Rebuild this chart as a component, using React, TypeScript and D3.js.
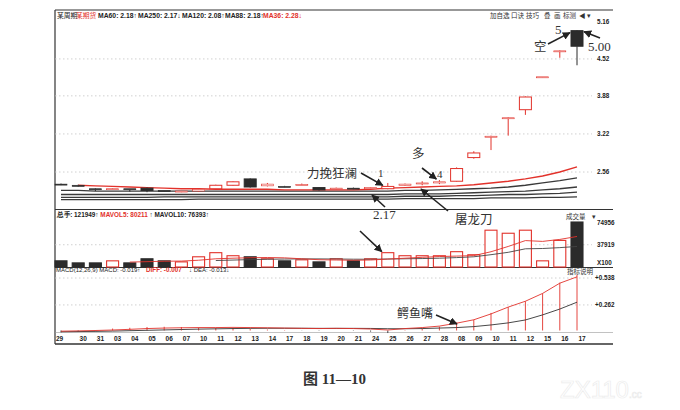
import React from 'react';
import * as d3 from 'd3';

// trading days shown under the chart
const dates = ['29', '30', '31', '03', '04', '05', '06', '07', '10', '11', '12', '13', '14', '17', '18', '19',
  '20', '21', '24', '25', '26', '27', '28', '08', '09', '10', '11', '12', '15', '16', '17'];

const opens = [2.35, 2.33, 2.27, 2.26, 2.27, 2.28, 2.24, 2.22, 2.23, 2.27, 2.33, 2.44, 2.32, 2.31, 2.33, 2.29,
  2.27, 2.28, 2.27, 2.27, 2.33, 2.36, 2.37, 2.40, 2.81, 3.17, 3.49, 3.64, 4.20, 4.65, 5.01];
const highs = [2.36, 2.34, 2.28, 2.28, 2.27, 2.29, 2.24, 2.23, 2.27, 2.34, 2.40, 2.45, 2.37, 2.32, 2.36, 2.30,
  2.29, 2.29, 2.30, 2.37, 2.36, 2.40, 2.42, 2.64, 2.92, 3.19, 3.51, 3.87, 4.21, 4.67, 5.02];
const lows = [2.34, 2.30, 2.23, 2.25, 2.22, 2.21, 2.22, 2.21, 2.22, 2.26, 2.32, 2.29, 2.31, 2.29, 2.32, 2.24,
  2.26, 2.26, 2.26, 2.26, 2.32, 2.33, 2.35, 2.39, 2.79, 2.94, 3.19, 3.55, 4.20, 4.54, 4.41];
const closes = [2.35, 2.31, 2.27, 2.27, 2.26, 2.24, 2.23, 2.23, 2.26, 2.33, 2.39, 2.30, 2.35, 2.30, 2.34, 2.25,
  2.28, 2.27, 2.29, 2.31, 2.35, 2.37, 2.39, 2.62, 2.89, 3.18, 3.50, 3.86, 4.21, 4.66, 4.74];

// price moving averages (red = MA36, the dark ones below)
const maRed = [null, 2.33, 2.32, 2.31, 2.30, 2.29, 2.28, 2.27, 2.27, 2.26, 2.26, 2.26, 2.26, 2.25, 2.25, 2.25,
  2.25, 2.25, 2.26, 2.28, 2.29, 2.30, 2.31, 2.32, 2.34, 2.37, 2.40, 2.44, 2.49, 2.56, 2.65];
const maA = [2.24, 2.24, 2.23, 2.23, 2.23, 2.23, 2.23, 2.23, 2.23, 2.23, 2.23, 2.23, 2.23, 2.23, 2.23, 2.23,
  2.23, 2.23, 2.23, 2.23, 2.24, 2.24, 2.25, 2.26, 2.27, 2.28, 2.30, 2.33, 2.37, 2.41, 2.46];
const maB = [2.17, 2.17, 2.17, 2.17, 2.17, 2.17, 2.17, 2.17, 2.17, 2.17, 2.17, 2.17, 2.17, 2.17, 2.17, 2.17,
  2.17, 2.17, 2.17, 2.17, 2.18, 2.18, 2.18, 2.19, 2.20, 2.21, 2.22, 2.23, 2.25, 2.27, 2.30];
const maC = [2.12, 2.12, 2.12, 2.12, 2.12, 2.12, 2.13, 2.13, 2.13, 2.13, 2.13, 2.13, 2.13, 2.13, 2.13, 2.13,
  2.13, 2.13, 2.13, 2.13, 2.14, 2.14, 2.14, 2.15, 2.15, 2.16, 2.17, 2.17, 2.18, 2.19, 2.21];
const maD = [2.08, 2.08, 2.08, 2.08, 2.08, 2.08, 2.08, 2.08, 2.09, 2.09, 2.09, 2.09, 2.09, 2.09, 2.09, 2.09,
  2.09, 2.09, 2.09, 2.09, 2.10, 2.10, 2.10, 2.10, 2.10, 2.11, 2.11, 2.11, 2.12, 2.12, 2.13];

const volumes = [10500, 7000, 7000, 10500, 7000, 14000, 10500, 8700, 17400, 24400, 19200, 17400, 14000, 10500,
  12200, 8700, 14000, 10500, 14000, 24400, 19200, 19200, 19200, 26100, 20900, 62700, 57500, 62700, 10500,
  45300, 121949];
const mavol5 = [null, null, null, null, 8400, 9100, 9800, 10100, 11500, 14000, 15000, 15800, 16200, 15600,
  14000, 12400, 11900, 11500, 11900, 13500, 15000, 16500, 17800, 18600, 19400, 26000, 35000, 45000, 43600,
  47000, 52000];
const mavol10 = [null, null, null, null, null, null, null, null, null, 11000, 11800, 12600, 13200, 13600, 13800,
  13800, 13600, 13300, 13200, 13600, 14000, 14400, 15000, 16000, 17400, 21000, 25000, 31000, 31500, 33000,
  35000];

const diff = [-0.007, -0.004, 0.0, 0.005, 0.012, 0.02, 0.025, 0.028, 0.03, 0.03, 0.032, 0.03, 0.028, 0.025,
  0.022, 0.02, 0.022, 0.02, 0.015, 0.005, 0.02, 0.03, 0.045, 0.075, 0.11, 0.17, 0.24, 0.30, 0.38, 0.485, 0.55];
const dea = [-0.013, -0.011, -0.009, -0.006, -0.002, 0.002, 0.006, 0.01, 0.014, 0.017, 0.02, 0.022, 0.023,
  0.023, 0.023, 0.022, 0.022, 0.022, 0.021, 0.018, 0.018, 0.02, 0.025, 0.03, 0.04, 0.057, 0.078, 0.108, 0.16,
  0.22, 0.29];
const macd = [-0.019, -0.014, -0.009, 0.02, 0.028, 0.036, 0.038, 0.036, 0.032, 0.026, 0.024, 0.016, 0.01,
  0.004, -0.002, -0.004, 0.0, -0.004, -0.012, -0.026, 0.004, 0.02, 0.04, 0.08, 0.11, 0.18, 0.24, 0.30, 0.38,
  0.49, 0.57];

const priceTicks = [5.16, 4.52, 3.88, 3.22, 2.56];
const volTicks = [{ v: 74956, label: '74956' }, { v: 37919, label: '37919' }];
const macdTicks = [{ v: 0.538, label: '+0.538' }, { v: 0.262, label: '+0.262' }];

const RED = '#e2322b';
const BLK = '#2b2b2b';
const SANS = 'Liberation Sans, Arial, sans-serif';
const CJK = 'Noto Sans CJK SC, sans-serif';
const SERIF = 'Liberation Serif, DejaVu Serif, serif';

export default function App() {
  const L = 55;
  const R = 613;
  const x = d3.scaleLinear().domain([0, dates.length - 1]).range([61, 577]);
  const yP = d3.scaleLinear().domain([2.56, 5.16]).range([172, 22]);
  const yV = d3.scaleLinear().domain([0, 74956]).range([267, 223]);
  const yM = d3.scaleLinear().domain([0, 0.538]).range([330.5, 278]);
  const bw = 12;

  const line = (ys: (v: number) => number) =>
    d3.line<number | null>()
      .defined((d) => d != null)
      .x((_, i) => x(i))
      .y((d) => ys(d as number));

  const arrow = (x1: number, y1: number, x2: number, y2: number, k: string) => (
    <line key={k} x1={x1} y1={y1} x2={x2} y2={y2} stroke="#222" strokeWidth={1.6} markerEnd="url(#ah)" />
  );

  return (
    <svg width={680} height={410} style={{ position: 'absolute', left: 0, top: 0, background: '#fff' }}>
      <defs>
        <marker id="ah" viewBox="0 0 10 10" refX="9" refY="5" markerWidth="5" markerHeight="5" orient="auto">
          <path d="M0,0 L10,5 L0,10 Z" fill="#222" />
        </marker>
      </defs>
      <rect width={680} height={410} fill="#fff" />

      {/* frame */}
      <g stroke="#333" fill="none">
        <line x1={L} y1={10} x2={R} y2={10} strokeWidth={1.2} />
        <line x1={L} y1={10} x2={L} y2={344} strokeWidth={1.2} />
        <line x1={L} y1={209.5} x2={R} y2={209.5} strokeWidth={1} />
        <line x1={L} y1={267.5} x2={R} y2={267.5} strokeWidth={1} />
        <line x1={L} y1={332.5} x2={R} y2={332.5} strokeWidth={0.6} stroke="#999" />
        <line x1={L} y1={344} x2={R} y2={344} strokeWidth={1.6} />
      </g>

      {/* grid */}
      <g stroke="#c4c4c4" strokeDasharray="1.5,2.5" strokeWidth={0.8}>
        {priceTicks.slice(1).map((p) => (
          <line key={p} x1={L} x2={592} y1={yP(p)} y2={yP(p)} />
        ))}
        <line x1={L} x2={592} y1={yV(37919)} y2={yV(37919)} />
        {macdTicks.map((t) => (
          <line key={t.label} x1={L} x2={592} y1={yM(t.v)} y2={yM(t.v)} />
        ))}
      </g>

      {/* headers */}
      <g fontFamily={SANS} fontSize={6.8} fill="#222" fontWeight={700}>
        <text x={57} y={18} fontFamily={CJK} fontWeight={400}>某周期</text>
        <text x={76} y={18} fontFamily={CJK} fontWeight={400} fill={RED}>某期货</text>
        <text x={98} y={18}>MA60: 2.18↑</text>
        <text x={138} y={18}>MA250: 2.17↓</text>
        <text x={182} y={18}>MA120: 2.08↑</text>
        <text x={225} y={18}>MA88: 2.18↑</text>
        <text x={263} y={18} fill={RED}>MA36: 2.28↓</text>

        <text x={57} y={217} textLength={152} lengthAdjust="spacingAndGlyphs">
          总手: 121949↑ <tspan fill={RED}>MAVOL5: 80211</tspan> ↑ MAVOL10: 76393↑
        </text>
      </g>
      <g fontFamily={SANS} fontSize={6} fill="#222">
        <text x={56} y={272}>MACD(12,26,9) MACD: -0.019↑</text>
        <text x={146} y={272} fill={RED} fontSize={6.3} fontWeight={700}>DIFF: -0.007</text>
        <text x={189} y={272}>↓ DEA: -0.013↓</text>
      </g>
      <g fontFamily={CJK} fontSize={6.5} fill="#333">
        <text x={490} y={18}>加自选</text>
        <text x={511} y={18}>口诀</text>
        <text x={526} y={18}>技巧</text>
        <text x={544} y={18}>叠</text>
        <text x={554} y={18}>画</text>
        <text x={563} y={18}>标测</text>
        <text x={579} y={18}>◀ ▾</text>
        <text x={566} y={219}>成交量</text>
        <text x={592} y={219}>▾</text>
        <text x={567} y={274}>指标说明</text>
      </g>

      {/* right axis labels */}
      <g fontFamily={SANS} fontSize={6.3} fill="#222" fontWeight={700}>
        {priceTicks.map((p) => (
          <text key={p} x={597} y={yP(p) + 2}>{p.toFixed(2)}</text>
        ))}
        {volTicks.map((t) => (
          <text key={t.label} x={597} y={yV(t.v) + 2}>{t.label}</text>
        ))}
        <text x={597} y={265}>X100</text>
        {macdTicks.map((t) => (
          <text key={t.label} x={595} y={yM(t.v) + 2}>{t.label}</text>
        ))}
      </g>

      {/* moving averages under candles */}
      <g fill="none">
        {[maD, maC, maB, maA].map((m, i) => (
          <path key={i} d={line(yP)(m) || ''} stroke="#3a3a3a" strokeWidth={1.3} />
        ))}
        <path d={line(yP)(maRed) || ''} stroke={RED} strokeWidth={1.4} />
      </g>

      {/* candles */}
      <g>
        {dates.map((_, i) => {
          const up = closes[i] > opens[i];
          const col = up ? RED : BLK;
          const top = yP(Math.max(opens[i], closes[i]));
          const bot = yP(Math.min(opens[i], closes[i]));
          const h = Math.max(bot - top, 1);
          const cx = x(i);
          return (
            <g key={i}>
              <line x1={cx} x2={cx} y1={yP(highs[i])} y2={top} stroke={col} strokeWidth={1} />
              <line x1={cx} x2={cx} y1={top + h} y2={yP(lows[i])} stroke={col} strokeWidth={1} />
              <rect x={cx - bw / 2} y={top} width={bw} height={h}
                fill={up ? '#fff' : col} stroke={col} strokeWidth={h < 2 ? 0.6 : 1} />
            </g>
          );
        })}
      </g>

      {/* volume */}
      <g>
        {volumes.map((v, i) => {
          const up = closes[i] > opens[i];
          const col = up ? RED : BLK;
          const top = Math.max(yV(v), 222);
          return (
            <rect key={i} x={x(i) - bw / 2} y={top} width={bw} height={yV(0) - top}
              fill={up ? '#fff' : col} stroke={col} strokeWidth={1.1} />
          );
        })}
        <path d={line(yV)(mavol10) || ''} fill="none" stroke="#444" strokeWidth={0.9} />
        <path d={line(yV)(mavol5) || ''} fill="none" stroke={RED} strokeWidth={0.9} />
      </g>

      {/* MACD */}
      <g>
        {macd.map((v, i) => (
          <line key={i} x1={x(i)} x2={x(i)} y1={yM(0)} y2={yM(v)} stroke={v >= 0 ? RED : BLK} strokeWidth={0.9} />
        ))}
        <path d={line(yM)(dea) || ''} fill="none" stroke="#333" strokeWidth={0.9} />
        <path d={line(yM)(diff) || ''} fill="none" stroke={RED} strokeWidth={0.9} />
      </g>

      {/* date axis */}
      <g fontFamily={SANS} fontSize={6.5} fill="#222" fontWeight={700}>
        {dates.map((d, i) => (
          <text key={i} x={i === 0 ? 56 : x(i) + 5} y={341} textAnchor={i === 0 ? 'start' : 'middle'}>{d}</text>
        ))}
      </g>

      {/* annotations */}
      <g fontFamily={CJK} fontSize={12.5} fill="#333">
        <text x={307} y={178}>力挽狂澜</text>
        <text x={412} y={158}>多</text>
        <text x={455} y={224}>屠龙刀</text>
        <text x={397} y={318} fontSize={12}>鳄鱼嘴</text>
        <text x={534} y={51}>空</text>
      </g>
      <g fontFamily={SERIF} fill="#333">
        <text x={378} y={177} fontSize={11}>1</text>
        <text x={437} y={178} fontSize={11}>4</text>
        <text x={373} y={219} fontSize={13}>2.17</text>
        <text x={555} y={34} fontSize={13}>5</text>
        <text x={588} y={51} fontSize={13}>5.00</text>
      </g>
      {arrow(361, 173, x(19) - 5, yP(closes[19]) - 1, 'a1')}
      {arrow(422, 168, x(22) - 3, yP(highs[22]) - 1, 'a2')}
      {arrow(385, 207, 372, 195, 'a3')}
      {arrow(448, 211, 421, 189, 'a4')}
      {arrow(360, 231, x(19) - 6, yV(volumes[19]) - 1, 'a5')}
      {arrow(436, 315, 457, 324, 'a6')}
      {arrow(548, 44, x(30) - 7, yP(opens[30]) + 2, 'a7')}
      {arrow(600, 38, x(30) + 7, yP(opens[30]) + 1, 'a8')}

      {/* caption */}
      <text x={303} y={384} fontFamily={`${SERIF}, ${CJK}`} fontSize={15} fontWeight={700} fill="#333">
        <tspan fontFamily={CJK}>图</tspan> 11—10
      </text>
      <text x={560} y={398} fontFamily={SANS} fontSize={24} fill="none" stroke="#ececec" strokeWidth={0.7}>
        ZX110<tspan fontSize={10}>.cc</tspan>
      </text>
    </svg>
  );
}
